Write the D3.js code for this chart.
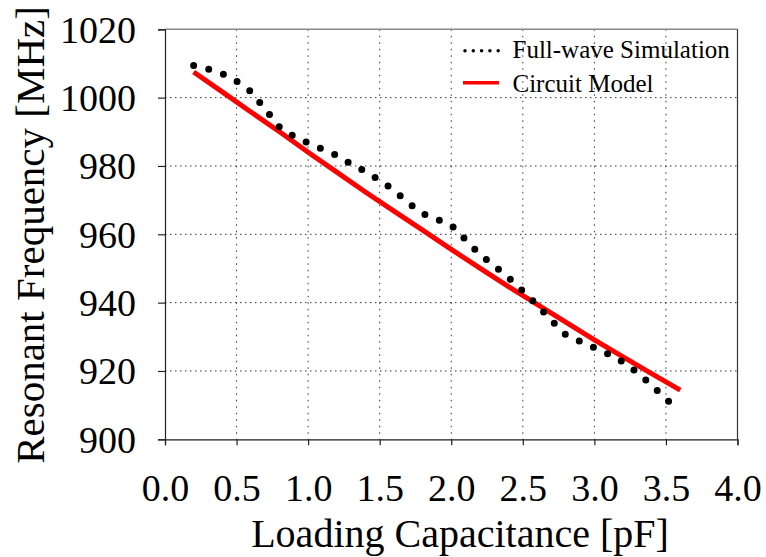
<!DOCTYPE html>
<html>
<head>
<meta charset="utf-8">
<script src="https://cdn.jsdelivr.net/npm/d3@7"></script>
<style>
  html, body { margin: 0; padding: 0; background: #fff; }
  svg { display: block; }
  text { font-family: "Liberation Serif", "Times New Roman", serif; fill: #000; }
</style>
</head>
<body>
<svg id="chart" width="766" height="557"></svg>
<script>
// Loading capacitance (pF) vs. resonant frequency (MHz)
const simCap = [0.2, 0.3, 0.4, 0.5, 0.6, 0.7, 0.8, 0.9, 1.0, 1.1, 1.2, 1.3, 1.4, 1.5, 1.6, 1.7, 1.8,
                1.9, 2.0, 2.1, 2.2, 2.3, 2.4, 2.5, 2.6, 2.7, 2.8, 2.9, 3.0, 3.1, 3.2, 3.3, 3.4, 3.52];
const simFreq = [1009.4, 1008.4, 1007.0, 1004.8, 1001.8, 996.6, 991.4, 988.7, 986.7, 984.9, 983.1,
                 980.6, 978.4, 975.8, 972.9, 969.2, 966.1, 964.4, 962.7, 958.4, 954.1, 950.8, 947.3,
                 943.4, 939.3, 934.8, 930.6, 928.7, 926.8, 924.9, 922.6, 919.6, 915.8, 911.1];

const modelCap = [0.2, 0.4, 0.6, 0.8, 1.0, 1.2, 1.4, 1.6, 1.8, 2.0, 2.2, 2.4, 2.6, 2.8, 3.0, 3.2, 3.4, 3.6];
const modelFreq = [1007.5, 1001.7, 995.8, 990.0, 984.0, 978.2, 972.4, 966.8, 961.2, 955.6, 950.1,
                   944.7, 939.5, 934.3, 929.1, 924.1, 919.2, 914.4];

const xTicks = [0.0, 0.5, 1.0, 1.5, 2.0, 2.5, 3.0, 3.5, 4.0];
const yTicks = [900, 920, 940, 960, 980, 1000, 1020];
const seriesNames = ["Full-wave Simulation", "Circuit Model"];

const svg = d3.select("#chart");
const plotLeft = 165, plotRight = 737.5, plotTop = 29.3, plotBottom = 439.3;

const x = d3.scaleLinear().domain([0, 4]).range([plotLeft, plotRight]);
const y = d3.scaleLinear().domain([900, 1020]).range([plotBottom, plotTop]);

// grid
const grid = svg.append("g");
grid.selectAll("line.h")
  .data(yTicks.filter(v => v > 900 && v < 1020))
  .join("line")
  .attr("x1", plotLeft).attr("x2", plotRight)
  .attr("y1", d => y(d)).attr("y2", d => y(d))
  .attr("stroke", "#333").attr("stroke-width", 1)
  .attr("stroke-dasharray", "1.5,3.5");
grid.selectAll("line.v")
  .data(xTicks.filter(v => v > 0 && v < 4))
  .join("line")
  .attr("x1", d => x(d)).attr("x2", d => x(d))
  .attr("y1", plotTop).attr("y2", plotBottom)
  .attr("stroke", "#333").attr("stroke-width", 1)
  .attr("stroke-dasharray", "1.5,5");

// frame: top and right edges
svg.append("line").attr("x1", plotLeft).attr("x2", plotRight).attr("y1", plotTop).attr("y2", plotTop)
  .attr("stroke", "#888").attr("stroke-width", 1.5);
svg.append("line").attr("x1", plotRight).attr("x2", plotRight).attr("y1", plotTop).attr("y2", plotBottom)
  .attr("stroke", "#333").attr("stroke-width", 1.2);

// axes
const yAxis = svg.append("g")
  .attr("transform", `translate(${plotLeft},0)`)
  .call(d3.axisLeft(y).tickValues(yTicks).tickSize(7).tickPadding(22).tickFormat(d3.format("d")));
const xAxis = svg.append("g")
  .attr("transform", `translate(0,${plotBottom})`)
  .call(d3.axisBottom(x).tickValues(xTicks).tickSize(6).tickPadding(29).tickFormat(d3.format(".1f")));

[yAxis, xAxis].forEach(a => {
  a.select(".domain").attr("stroke", "#222").attr("stroke-width", 1.2);
  a.selectAll(".tick line").attr("stroke", "#222").attr("stroke-width", 1.2);
  a.selectAll(".tick text")
    .attr("font-family", "'Liberation Serif', 'Times New Roman', serif")
    .attr("font-size", 38).attr("fill", "#000");
});
yAxis.selectAll(".tick text").attr("dy", "0.34em");
xAxis.selectAll(".tick text").attr("dy", "0.71em");

// axis titles
svg.append("text")
  .attr("transform", "translate(44,235) rotate(-90)")
  .attr("text-anchor", "middle")
  .attr("font-size", 41)
  .text("Resonant Frequency [MHz]");
svg.append("text")
  .attr("x", 460).attr("y", 547)
  .attr("text-anchor", "middle")
  .attr("font-size", 40)
  .text("Loading Capacitance [pF]");

// series
const line = d3.line().x(d => x(d[0])).y(d => y(d[1]));

svg.append("path")
  .datum(modelCap.map((c, i) => [c, modelFreq[i]]))
  .attr("d", line)
  .attr("fill", "none")
  .attr("stroke", "#ff0000")
  .attr("stroke-width", 5)
  .attr("stroke-linejoin", "round");

// round-dot line: dots evenly spaced along the path, one at each end
const simPath = svg.append("path")
  .datum(simCap.map((c, i) => [c, simFreq[i]]))
  .attr("d", line)
  .attr("fill", "none")
  .attr("stroke", "#000")
  .attr("stroke-width", 7)
  .attr("stroke-linecap", "round");
const len = simPath.node().getTotalLength();
const gap = len / 38 * 0.9995;
simPath.attr("stroke-dasharray", `0,${gap}`);

// legend
const lg = svg.append("g");
lg.append("line")
  .attr("x1", 465).attr("x2", 499).attr("y1", 50.7).attr("y2", 50.7)
  .attr("stroke", "#000").attr("stroke-width", 3.5)
  .attr("stroke-linecap", "round").attr("stroke-dasharray", "0,8.3");
lg.append("line")
  .attr("x1", 463).attr("x2", 499).attr("y1", 82.7).attr("y2", 82.7)
  .attr("stroke", "#ff0000").attr("stroke-width", 3.5);
lg.selectAll("text")
  .data(seriesNames)
  .join("text")
  .attr("x", 512.5)
  .attr("y", (d, i) => i === 0 ? 58.3 : 91.7)
  .attr("font-size", 25)
  .text(d => d);
</script>
</body>
</html>
